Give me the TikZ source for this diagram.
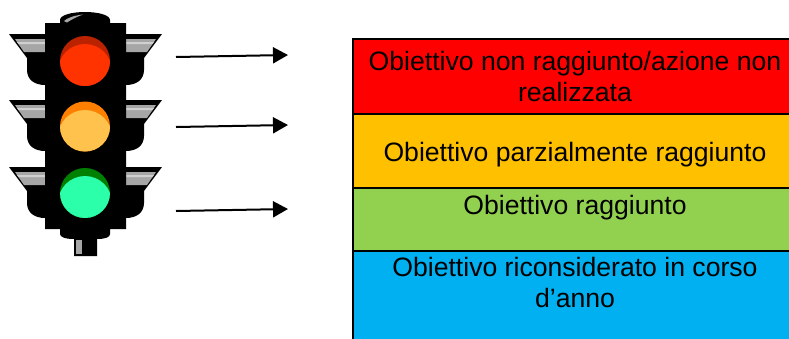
\documentclass[tikz,border=0pt]{standalone}
\usepackage{fontspec}
\setmainfont{Liberation Sans}
\usetikzlibrary{arrows.meta}
\definecolor{cellred}{HTML}{FF0000}
\definecolor{cellamber}{HTML}{FFC000}
\definecolor{cellgreen}{HTML}{92D050}
\definecolor{cellblue}{HTML}{00B0F0}
\definecolor{greyband}{HTML}{A6A6A6}
\definecolor{greylight}{HTML}{D0D0D0}
\definecolor{redoff}{HTML}{BB2200}
\definecolor{redon}{HTML}{FF3300}
\definecolor{amberoff}{HTML}{FF8000}
\definecolor{amberon}{HTML}{FFC34D}
\definecolor{greenoff}{HTML}{008000}
\definecolor{greenon}{HTML}{2BFFAA}
\tikzset{
  x=1pt,y=-1pt,
  cell/.style={draw=black,line width=2pt},
  celltext/.style={anchor=base,inner sep=0pt,font=\fontsize{26.6}{31}\selectfont,text=black},
  pointer/.style={draw=black,line width=2pt,-{Triangle[length=15pt,width=16pt]},shorten >=0pt},
  lens/.style={circle,inner sep=0pt,minimum size=50pt},
}
\newcommand{\wingpair}[1]{%
  \begin{scope}[yshift=-#1pt]
    \fill[black] (9,34) -- (162,34) -- (144,58) -- (144,70) .. controls (144,80) and (136,85) .. (126,85) -- (45,85) .. controls (35,85) and (27,80) .. (27,70) -- (27,58) -- cycle;
    \fill[greyband] (15,39) -- (45,39) -- (45,52) -- (24,52) -- cycle;
    \fill[greyband] (156,39) -- (126,39) -- (126,52) -- (147,52) -- cycle;
    \fill[greylight] (17,42) -- (45,42) -- (45,44) -- (18.5,44) -- cycle;
    \fill[greylight] (154,42) -- (126,42) -- (126,44) -- (152.5,44) -- cycle;
  \end{scope}}
\begin{document}
\begin{tikzpicture}
\useasboundingbox (0,0) rectangle (789,338);
\clip (0,0) rectangle (789,338);
% traffic light
\wingpair{0}
\wingpair{66}
\wingpair{133}
\fill[black] (45,23) -- (60,23) -- (60,20) .. controls (60,15) and (72,12) .. (85,12) .. controls (98,12) and (110,15) .. (110,20) -- (110,23) -- (126,23) -- (126,229) -- (110,229) -- (110,234) .. controls (110,237) and (106,239) .. (97,239) -- (97,256) -- (74,256) -- (74,239) .. controls (65,239) and (60,237) .. (60,234) -- (60,229) -- (45,229) -- cycle;
\fill[greyband] (64,21) .. controls (67,18) and (74,15.5) .. (83,14.5) .. controls (76,17) and (71,20) .. (67,22.5) -- cycle;
\fill[greyband] (76,240) rectangle (82,254);
\node[lens,fill=redoff] (redlens) at (85,61) {};
\begin{scope}
  \clip (85,61) circle (25);
  \fill[redon] (85,71) circle (27);
\end{scope}
\node[lens,fill=amberoff] (amberlens) at (85,126.5) {};
\begin{scope}
  \clip (85,126.5) circle (25);
  \fill[amberon] (85,137) circle (27);
\end{scope}
\node[lens,fill=greenoff] (greenlens) at (85,193) {};
\begin{scope}
  \clip (85,193) circle (25);
  \fill[greenon] (85,203) circle (27);
\end{scope}
% arrows
\coordinate (a1s) at (176,57);
\coordinate (a1e) at (288,55);
\coordinate (a2s) at (176,127);
\coordinate (a2e) at (288,125);
\coordinate (a3s) at (176,211);
\coordinate (a3e) at (288,209);
\draw[pointer] (a1s) -- (a1e);
\draw[pointer] (a2s) -- (a2e);
\draw[pointer] (a3s) -- (a3e);
% table
\filldraw[cell,fill=cellred] (353,38.5) rectangle (800,114);
\filldraw[cell,fill=cellamber] (353,114) rectangle (800,188);
\filldraw[cell,fill=cellgreen] (353,188) rectangle (800,250.5);
\filldraw[cell,fill=cellblue] (353,250.5) rectangle (800,350);
\node[celltext] (t1) at (575,70) {Obiettivo non raggiunto/azione non};
\node[celltext] (t1b) at (575,101) {realizzata};
\node[celltext] (t2) at (575,161) {Obiettivo parzialmente raggiunto};
\node[celltext] (t3) at (575,214) {Obiettivo raggiunto};
\node[celltext] (t4) at (575,276) {Obiettivo riconsiderato in corso};
\node[celltext] (t4b) at (575,307) {d’anno};
\end{tikzpicture}
\end{document}
